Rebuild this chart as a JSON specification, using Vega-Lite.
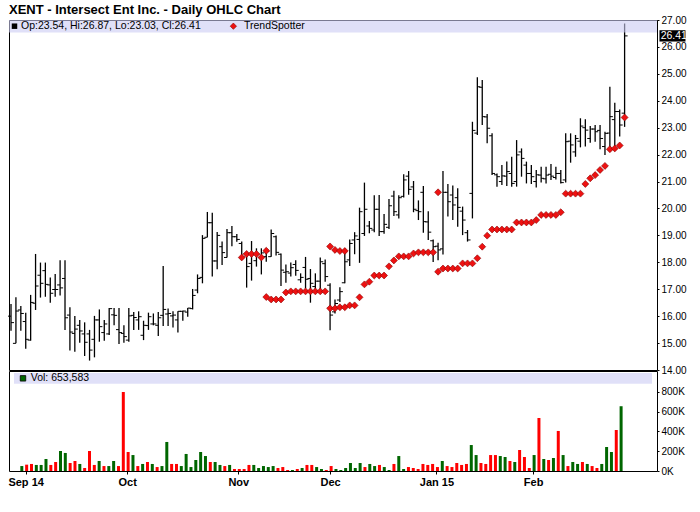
{
  "$schema": "https://vega.github.io/schema/vega-lite/v6.json",
  "description": "XENT daily OHLC chart with TrendSpotter markers and volume, Aug 28 2014 - Feb 27 2015 (i = trading day index).",
  "background": "white",
  "padding": {"left": 7, "top": 4, "right": 4, "bottom": 4},
  "bounds": "flush",
  "title": {
    "text": "XENT - Intersect Ent Inc. - Daily OHLC Chart",
    "anchor": "start",
    "frame": "group",
    "font": "Liberation Sans",
    "fontSize": 13,
    "fontWeight": "bold",
    "color": "black",
    "offset": -2.5
  },
  "config": {
    "view": {"stroke": "black", "strokeWidth": 1},
    "axis": {"grid": false, "domain": false, "tickColor": "black", "labelColor": "black", "labelFont": "Liberation Sans", "title": null, "labelOverlap": false}
  },
  "datasets": {
    "bars": [
      {"i":0,"o":16.00,"h":16.45,"l":15.46,"c":15.76,"v":null,"dir":"down"},
      {"i":1,"o":14.99,"h":16.70,"l":14.99,"c":16.19,"v":50000,"dir":"up"},
      {"i":2,"o":16.23,"h":16.38,"l":15.46,"c":16.10,"v":64000,"dir":"down"},
      {"i":3,"o":15.80,"h":16.13,"l":14.79,"c":15.14,"v":71000,"dir":"down"},
      {"i":4,"o":15.11,"h":16.79,"l":15.09,"c":16.51,"v":61000,"dir":"up"},
      {"i":5,"o":16.48,"h":18.31,"l":16.23,"c":17.12,"v":61000,"dir":"up"},
      {"i":6,"o":17.52,"h":17.99,"l":16.69,"c":17.22,"v":121000,"dir":"up"},
      {"i":7,"o":17.69,"h":17.99,"l":16.72,"c":17.18,"v":61000,"dir":"down"},
      {"i":8,"o":17.16,"h":17.44,"l":16.50,"c":16.85,"v":91000,"dir":"down"},
      {"i":9,"o":16.99,"h":17.57,"l":16.72,"c":16.99,"v":202000,"dir":"up"},
      {"i":10,"o":17.16,"h":18.08,"l":16.77,"c":17.05,"v":182000,"dir":"up"},
      {"i":11,"o":17.40,"h":18.08,"l":15.49,"c":15.94,"v":81000,"dir":"down"},
      {"i":12,"o":16.04,"h":16.33,"l":14.72,"c":15.41,"v":101000,"dir":"down"},
      {"i":13,"o":15.36,"h":16.01,"l":14.68,"c":15.52,"v":71000,"dir":"up"},
      {"i":14,"o":15.66,"h":15.86,"l":15.01,"c":15.45,"v":30000,"dir":"down"},
      {"i":15,"o":15.34,"h":15.77,"l":14.52,"c":15.03,"v":202000,"dir":"down"},
      {"i":16,"o":15.34,"h":15.49,"l":14.35,"c":14.74,"v":61000,"dir":"down"},
      {"i":17,"o":15.14,"h":16.01,"l":14.47,"c":15.86,"v":101000,"dir":"up"},
      {"i":18,"o":15.86,"h":16.25,"l":15.05,"c":15.61,"v":50000,"dir":"down"},
      {"i":19,"o":15.39,"h":15.86,"l":15.09,"c":15.71,"v":50000,"dir":"up"},
      {"i":20,"o":15.34,"h":16.30,"l":15.30,"c":16.28,"v":101000,"dir":"up"},
      {"i":21,"o":16.05,"h":16.30,"l":15.66,"c":16.03,"v":50000,"dir":"down"},
      {"i":22,"o":15.50,"h":16.30,"l":14.97,"c":15.39,"v":797000,"dir":"down"},
      {"i":23,"o":15.36,"h":15.66,"l":15.01,"c":15.24,"v":192000,"dir":"down"},
      {"i":24,"o":15.11,"h":16.30,"l":15.05,"c":16.01,"v":161000,"dir":"up"},
      {"i":25,"o":16.03,"h":16.15,"l":15.49,"c":15.95,"v":50000,"dir":"down"},
      {"i":26,"o":15.86,"h":16.18,"l":15.49,"c":15.98,"v":71000,"dir":"up"},
      {"i":27,"o":15.29,"h":15.83,"l":15.11,"c":15.66,"v":91000,"dir":"down"},
      {"i":28,"o":15.65,"h":16.13,"l":15.49,"c":15.98,"v":71000,"dir":"up"},
      {"i":29,"o":15.71,"h":16.10,"l":15.66,"c":15.71,"v":40000,"dir":"down"},
      {"i":30,"o":15.66,"h":16.15,"l":15.26,"c":15.94,"v":50000,"dir":"up"},
      {"i":31,"o":16.03,"h":17.86,"l":15.63,"c":16.25,"v":293000,"dir":"up"},
      {"i":32,"o":16.08,"h":16.28,"l":15.63,"c":16.10,"v":71000,"dir":"down"},
      {"i":33,"o":16.01,"h":16.18,"l":15.58,"c":16.04,"v":71000,"dir":"down"},
      {"i":34,"o":15.86,"h":16.18,"l":15.39,"c":16.18,"v":50000,"dir":"up"},
      {"i":35,"o":16.18,"h":16.20,"l":15.83,"c":16.19,"v":172000,"dir":"up"},
      {"i":36,"o":16.15,"h":16.30,"l":15.98,"c":16.30,"v":40000,"dir":"up"},
      {"i":37,"o":16.28,"h":17.01,"l":16.25,"c":16.77,"v":111000,"dir":"up"},
      {"i":38,"o":16.97,"h":17.55,"l":16.85,"c":17.40,"v":192000,"dir":"up"},
      {"i":39,"o":17.44,"h":19.01,"l":17.22,"c":18.89,"v":151000,"dir":"up"},
      {"i":40,"o":18.93,"h":19.87,"l":18.93,"c":19.47,"v":91000,"dir":"down"},
      {"i":41,"o":19.47,"h":19.84,"l":17.47,"c":18.05,"v":91000,"dir":"up"},
      {"i":42,"o":18.05,"h":19.13,"l":17.74,"c":19.00,"v":61000,"dir":"up"},
      {"i":43,"o":18.58,"h":18.77,"l":17.90,"c":18.36,"v":50000,"dir":"down"},
      {"i":44,"o":18.18,"h":19.24,"l":18.18,"c":19.10,"v":61000,"dir":"up"},
      {"i":45,"o":19.10,"h":19.35,"l":18.60,"c":18.95,"v":20000,"dir":"down"},
      {"i":46,"o":18.95,"h":19.05,"l":18.76,"c":18.85,"v":20000,"dir":"down"},
      {"i":47,"o":18.70,"h":18.77,"l":18.09,"c":18.20,"v":20000,"dir":"down"},
      {"i":48,"o":18.33,"h":18.36,"l":17.06,"c":17.84,"v":61000,"dir":"down"},
      {"i":49,"o":17.96,"h":18.79,"l":17.32,"c":18.29,"v":61000,"dir":"up"},
      {"i":50,"o":18.06,"h":18.52,"l":17.84,"c":18.30,"v":30000,"dir":"up"},
      {"i":51,"o":18.18,"h":18.52,"l":17.55,"c":18.35,"v":50000,"dir":"up"},
      {"i":52,"o":18.21,"h":18.52,"l":18.02,"c":18.40,"v":40000,"dir":"up"},
      {"i":53,"o":18.21,"h":19.22,"l":18.21,"c":19.07,"v":50000,"dir":"up"},
      {"i":54,"o":18.95,"h":19.00,"l":18.25,"c":18.37,"v":30000,"dir":"down"},
      {"i":55,"o":18.30,"h":18.33,"l":17.12,"c":17.71,"v":40000,"dir":"down"},
      {"i":56,"o":17.63,"h":17.92,"l":17.24,"c":17.65,"v":10000,"dir":"down"},
      {"i":57,"o":17.60,"h":17.99,"l":17.47,"c":17.80,"v":10000,"dir":"up"},
      {"i":58,"o":17.92,"h":18.08,"l":17.50,"c":17.70,"v":20000,"dir":"down"},
      {"i":59,"o":17.35,"h":17.59,"l":17.24,"c":17.44,"v":30000,"dir":"up"},
      {"i":60,"o":17.81,"h":18.20,"l":17.03,"c":17.37,"v":61000,"dir":"down"},
      {"i":61,"o":17.40,"h":17.75,"l":16.50,"c":17.22,"v":61000,"dir":"down"},
      {"i":62,"o":17.10,"h":17.59,"l":16.88,"c":17.30,"v":40000,"dir":"up"},
      {"i":63,"o":17.30,"h":18.18,"l":16.91,"c":18.02,"v":20000,"dir":"up"},
      {"i":64,"o":17.95,"h":18.10,"l":17.28,"c":17.47,"v":10000,"dir":"down"},
      {"i":65,"o":17.15,"h":17.22,"l":15.48,"c":16.04,"v":50000,"dir":"down"},
      {"i":66,"o":16.16,"h":16.62,"l":16.10,"c":16.47,"v":20000,"dir":"up"},
      {"i":67,"o":16.60,"h":17.07,"l":16.53,"c":16.91,"v":10000,"dir":"up"},
      {"i":68,"o":17.24,"h":18.52,"l":17.22,"c":18.02,"v":30000,"dir":"up"},
      {"i":69,"o":18.09,"h":18.85,"l":17.86,"c":18.70,"v":81000,"dir":"up"},
      {"i":70,"o":18.83,"h":19.12,"l":18.30,"c":18.98,"v":30000,"dir":"up"},
      {"i":71,"o":18.85,"h":20.03,"l":17.98,"c":19.88,"v":81000,"dir":"up"},
      {"i":72,"o":19.07,"h":20.96,"l":18.98,"c":19.97,"v":40000,"dir":"down"},
      {"i":73,"o":19.35,"h":19.53,"l":19.08,"c":19.26,"v":71000,"dir":"up"},
      {"i":74,"o":19.20,"h":20.49,"l":19.12,"c":19.97,"v":50000,"dir":"up"},
      {"i":75,"o":19.97,"h":20.50,"l":18.98,"c":19.14,"v":61000,"dir":"down"},
      {"i":76,"o":19.14,"h":19.79,"l":19.06,"c":19.41,"v":40000,"dir":"up"},
      {"i":77,"o":19.30,"h":20.35,"l":19.24,"c":20.10,"v":10000,"dir":"up"},
      {"i":78,"o":20.46,"h":20.66,"l":19.72,"c":19.88,"v":71000,"dir":"down"},
      {"i":79,"o":19.76,"h":20.49,"l":19.63,"c":20.40,"v":151000,"dir":"up"},
      {"i":80,"o":20.45,"h":21.27,"l":20.41,"c":21.06,"v":20000,"dir":"up"},
      {"i":81,"o":21.20,"h":21.39,"l":20.51,"c":20.71,"v":40000,"dir":"down"},
      {"i":82,"o":20.80,"h":21.02,"l":19.86,"c":19.97,"v":30000,"dir":"down"},
      {"i":83,"o":19.92,"h":20.30,"l":19.57,"c":19.88,"v":20000,"dir":"down"},
      {"i":84,"o":20.60,"h":20.83,"l":19.10,"c":19.51,"v":71000,"dir":"down"},
      {"i":85,"o":19.50,"h":19.90,"l":18.83,"c":19.12,"v":61000,"dir":"down"},
      {"i":86,"o":18.80,"h":18.85,"l":18.01,"c":18.58,"v":71000,"dir":"down"},
      {"i":87,"o":18.60,"h":18.73,"l":18.08,"c":18.46,"v":40000,"dir":"down"},
      {"i":88,"o":18.50,"h":21.39,"l":18.29,"c":20.60,"v":101000,"dir":"up"},
      {"i":89,"o":20.60,"h":20.91,"l":19.70,"c":20.25,"v":50000,"dir":"down"},
      {"i":90,"o":20.50,"h":20.85,"l":19.57,"c":20.13,"v":40000,"dir":"down"},
      {"i":91,"o":20.40,"h":20.75,"l":19.32,"c":20.04,"v":81000,"dir":"down"},
      {"i":92,"o":19.90,"h":20.07,"l":19.01,"c":19.57,"v":61000,"dir":"down"},
      {"i":93,"o":19.10,"h":19.20,"l":18.77,"c":18.83,"v":71000,"dir":"down"},
      {"i":94,"o":20.56,"h":23.22,"l":19.63,"c":22.90,"v":262000,"dir":"up"},
      {"i":95,"o":22.80,"h":24.87,"l":22.73,"c":24.52,"v":161000,"dir":"up"},
      {"i":96,"o":24.50,"h":24.77,"l":23.10,"c":23.41,"v":81000,"dir":"down"},
      {"i":97,"o":23.40,"h":23.51,"l":22.42,"c":22.98,"v":71000,"dir":"down"},
      {"i":98,"o":22.70,"h":22.79,"l":21.24,"c":21.30,"v":161000,"dir":"down"},
      {"i":99,"o":21.25,"h":21.30,"l":20.81,"c":21.18,"v":161000,"dir":"down"},
      {"i":100,"o":21.00,"h":21.61,"l":20.87,"c":21.21,"v":151000,"dir":"up"},
      {"i":101,"o":21.20,"h":21.74,"l":20.83,"c":21.37,"v":141000,"dir":"up"},
      {"i":102,"o":21.30,"h":21.92,"l":20.81,"c":20.93,"v":101000,"dir":"down"},
      {"i":103,"o":21.00,"h":22.54,"l":20.81,"c":21.99,"v":91000,"dir":"up"},
      {"i":104,"o":22.10,"h":22.23,"l":21.18,"c":21.86,"v":212000,"dir":"down"},
      {"i":105,"o":21.61,"h":21.74,"l":20.93,"c":21.30,"v":141000,"dir":"down"},
      {"i":106,"o":21.30,"h":21.61,"l":20.91,"c":21.18,"v":30000,"dir":"down"},
      {"i":107,"o":21.00,"h":21.43,"l":20.78,"c":21.25,"v":161000,"dir":"up"},
      {"i":108,"o":21.24,"h":21.55,"l":20.96,"c":21.12,"v":535000,"dir":"down"},
      {"i":109,"o":21.10,"h":21.55,"l":20.93,"c":21.24,"v":121000,"dir":"up"},
      {"i":110,"o":21.27,"h":21.65,"l":21.06,"c":21.20,"v":111000,"dir":"down"},
      {"i":111,"o":21.15,"h":21.55,"l":21.08,"c":21.30,"v":131000,"dir":"up"},
      {"i":112,"o":21.30,"h":21.43,"l":20.93,"c":20.96,"v":404000,"dir":"down"},
      {"i":113,"o":21.06,"h":22.79,"l":20.96,"c":22.48,"v":161000,"dir":"up"},
      {"i":114,"o":22.50,"h":22.79,"l":21.70,"c":22.36,"v":50000,"dir":"down"},
      {"i":115,"o":22.10,"h":22.73,"l":21.92,"c":22.60,"v":91000,"dir":"up"},
      {"i":116,"o":22.50,"h":23.35,"l":22.27,"c":23.06,"v":71000,"dir":"up"},
      {"i":117,"o":23.00,"h":23.31,"l":22.30,"c":22.91,"v":91000,"dir":"down"},
      {"i":118,"o":22.60,"h":23.06,"l":22.44,"c":22.95,"v":71000,"dir":"up"},
      {"i":119,"o":22.95,"h":23.10,"l":22.48,"c":22.85,"v":50000,"dir":"down"},
      {"i":120,"o":22.90,"h":23.10,"l":22.20,"c":22.60,"v":30000,"dir":"down"},
      {"i":121,"o":22.30,"h":22.85,"l":21.99,"c":22.79,"v":71000,"dir":"up"},
      {"i":122,"o":22.80,"h":24.52,"l":22.17,"c":23.41,"v":242000,"dir":"up"},
      {"i":123,"o":23.30,"h":23.93,"l":22.23,"c":23.60,"v":192000,"dir":"up"},
      {"i":124,"o":23.60,"h":23.68,"l":22.67,"c":23.10,"v":414000,"dir":"down"},
      {"i":125,"o":23.54,"h":26.87,"l":23.03,"c":26.41,"v":653583,"dir":"up"}
    ],
    "ts": [
      {"i":47,"p":18.18},{"i":48,"p":18.31},{"i":49,"p":18.31},{"i":50,"p":18.31},{"i":51,"p":18.18},{"i":52,"p":18.43},
      {"i":52,"p":16.71},{"i":53,"p":16.62},{"i":54,"p":16.62},{"i":55,"p":16.62},{"i":56,"p":16.88},
      {"i":57,"p":16.92},{"i":58,"p":16.92},{"i":59,"p":16.92},{"i":60,"p":16.92},{"i":61,"p":16.92},{"i":62,"p":16.92},{"i":63,"p":16.92},{"i":64,"p":16.92},
      {"i":65,"p":18.59},{"i":66,"p":18.46},{"i":67,"p":18.42},{"i":68,"p":18.42},
      {"i":65,"p":16.29},{"i":66,"p":16.29},{"i":67,"p":16.33},{"i":68,"p":16.33},{"i":69,"p":16.40},{"i":70,"p":16.40},
      {"i":71,"p":16.70},{"i":72,"p":17.18},{"i":73,"p":17.28},{"i":74,"p":17.51},{"i":75,"p":17.51},{"i":76,"p":17.51},
      {"i":77,"p":17.85},{"i":78,"p":18.07},{"i":79,"p":18.22},{"i":80,"p":18.22},{"i":81,"p":18.22},{"i":82,"p":18.33},
      {"i":83,"p":18.37},{"i":84,"p":18.37},{"i":85,"p":18.37},{"i":86,"p":18.37},
      {"i":87,"p":20.60},
      {"i":87,"p":17.65},{"i":88,"p":17.77},{"i":89,"p":17.77},{"i":90,"p":17.77},{"i":91,"p":17.77},
      {"i":92,"p":17.96},{"i":93,"p":17.96},{"i":94,"p":17.96},{"i":95,"p":18.15},{"i":96,"p":18.58},{"i":97,"p":18.99},
      {"i":98,"p":19.22},{"i":99,"p":19.22},{"i":100,"p":19.22},{"i":101,"p":19.22},{"i":102,"p":19.22},
      {"i":103,"p":19.48},{"i":104,"p":19.48},{"i":105,"p":19.48},{"i":106,"p":19.48},{"i":107,"p":19.57},
      {"i":108,"p":19.76},{"i":109,"p":19.76},{"i":110,"p":19.76},{"i":111,"p":19.76},{"i":112,"p":19.86},
      {"i":113,"p":20.55},{"i":114,"p":20.55},{"i":115,"p":20.55},{"i":116,"p":20.55},
      {"i":117,"p":20.91},{"i":118,"p":21.12},{"i":119,"p":21.24},{"i":120,"p":21.43},{"i":121,"p":21.58},
      {"i":122,"p":22.20},{"i":123,"p":22.23},{"i":124,"p":22.34},{"i":125,"p":23.38}
    ]
  },
  "spacing": 1,
  "resolve": {"scale": {"x": "independent", "y": "independent", "color": "independent"}},
  "vconcat": [
    {
      "width": 648,
      "height": 350,
      "data": {"name": "bars"},
      "layer": [
        {
          "mark": {"type": "rule", "color": "black", "strokeWidth": 1.3},
          "encoding": {
            "x": {"field": "i", "type": "quantitative", "scale": {"domain": [-0.41, 131.6], "nice": false, "zero": false}, "axis": null},
            "y": {
              "field": "l", "type": "quantitative",
              "scale": {"domain": [14, 27], "nice": false, "zero": false},
              "axis": {"orient": "right", "values": [14,15,16,17,18,19,20,21,22,23,24,25,26,27], "format": ".2f", "tickSize": 2, "labelPadding": 2, "labelFontSize": 10, "labelOverlap": false, "labelBound": false}
            },
            "y2": {"field": "h"}
          }
        },
        {
          "mark": {"type": "tick", "orient": "horizontal", "color": "black", "size": 3, "thickness": 1, "xOffset": -1.5, "opacity": 1},
          "encoding": {
            "x": {"field": "i", "type": "quantitative"},
            "y": {"field": "o", "type": "quantitative", "axis": {"orient": "right", "values": [14,15,16,17,18,19,20,21,22,23,24,25,26,27], "format": ".2f", "tickSize": 2, "labelPadding": 2, "labelFontSize": 10, "labelOverlap": false, "labelBound": false}}
          }
        },
        {
          "mark": {"type": "tick", "orient": "horizontal", "color": "black", "size": 3, "thickness": 1, "xOffset": 1.5, "opacity": 1},
          "encoding": {
            "x": {"field": "i", "type": "quantitative"},
            "y": {"field": "c", "type": "quantitative", "axis": {"orient": "right", "values": [14,15,16,17,18,19,20,21,22,23,24,25,26,27], "format": ".2f", "tickSize": 2, "labelPadding": 2, "labelFontSize": 10, "labelOverlap": false, "labelBound": false}}
          }
        },
        {
          "data": {"name": "ts"},
          "mark": {"type": "point", "shape": "diamond", "filled": true, "size": 48, "fill": "#ee1111", "stroke": "#8a0000", "strokeWidth": 0.6, "opacity": 1},
          "encoding": {
            "x": {"field": "i", "type": "quantitative"},
            "y": {"field": "p", "type": "quantitative", "axis": {"orient": "right", "values": [14,15,16,17,18,19,20,21,22,23,24,25,26,27], "format": ".2f", "tickSize": 2, "labelPadding": 2, "labelFontSize": 10, "labelOverlap": false, "labelBound": false}}
          }
        },
        {
          "transform": [{"filter": "datum.i == 125"}],
          "mark": {"type": "rect", "color": "#cbcbf3", "opacity": 0.6},
          "encoding": {
            "x": {"datum": -0.41, "type": "quantitative"}, "x2": {"datum": 131.6},
            "y": {"datum": 27, "type": "quantitative", "axis": {"orient": "right", "values": [14,15,16,17,18,19,20,21,22,23,24,25,26,27], "format": ".2f", "tickSize": 2, "labelPadding": 2, "labelFontSize": 10, "labelOverlap": false, "labelBound": false}},
            "y2": {"datum": 26.54}
          }
        },
        {
          "transform": [{"filter": "datum.i == 125"}],
          "mark": {"type": "point", "shape": "square", "filled": true, "color": "black", "size": 30, "opacity": 1},
          "encoding": {
            "x": {"datum": 0.71, "type": "quantitative"},
            "y": {"datum": 26.77, "type": "quantitative", "axis": {"orient": "right", "values": [14,15,16,17,18,19,20,21,22,23,24,25,26,27], "format": ".2f", "tickSize": 2, "labelPadding": 2, "labelFontSize": 10, "labelOverlap": false, "labelBound": false}}
          }
        },
        {
          "transform": [{"filter": "datum.i == 125"}],
          "mark": {"type": "text", "align": "left", "baseline": "middle", "font": "Liberation Sans", "fontSize": 10.5, "color": "black"},
          "encoding": {
            "x": {"datum": 2.03, "type": "quantitative"},
            "y": {"datum": 26.77, "type": "quantitative", "axis": {"orient": "right", "values": [14,15,16,17,18,19,20,21,22,23,24,25,26,27], "format": ".2f", "tickSize": 2, "labelPadding": 2, "labelFontSize": 10, "labelOverlap": false, "labelBound": false}},
            "text": {"value": "Op:23.54, Hi:26.87, Lo:23.03, Cl:26.41"}
          }
        },
        {
          "data": {"values": [{"name": "TrendSpotter"}]},
          "mark": {"type": "point", "shape": "diamond", "filled": true, "size": 40, "fill": "#ee1111", "stroke": "#8a0000", "strokeWidth": 0.6, "opacity": 1},
          "encoding": {
            "x": {"datum": 45.3, "type": "quantitative"},
            "y": {"datum": 26.77, "type": "quantitative", "axis": {"orient": "right", "values": [14,15,16,17,18,19,20,21,22,23,24,25,26,27], "format": ".2f", "tickSize": 2, "labelPadding": 2, "labelFontSize": 10, "labelOverlap": false, "labelBound": false}}
          }
        },
        {
          "data": {"values": [{"name": "TrendSpotter"}]},
          "mark": {"type": "text", "align": "left", "baseline": "middle", "font": "Liberation Sans", "fontSize": 10.5, "color": "black"},
          "encoding": {
            "x": {"datum": 47.45, "type": "quantitative"},
            "y": {"datum": 26.77, "type": "quantitative", "axis": {"orient": "right", "values": [14,15,16,17,18,19,20,21,22,23,24,25,26,27], "format": ".2f", "tickSize": 2, "labelPadding": 2, "labelFontSize": 10, "labelOverlap": false, "labelBound": false}},
            "text": {"field": "name"}
          }
        },
        {
          "transform": [{"filter": "datum.i == 125"}],
          "mark": {"type": "rect", "color": "black", "clip": false},
          "encoding": {
            "x": {"datum": 132.1, "type": "quantitative"}, "x2": {"datum": 137.4},
            "y": {"datum": 26.62, "type": "quantitative", "axis": {"orient": "right", "values": [14,15,16,17,18,19,20,21,22,23,24,25,26,27], "format": ".2f", "tickSize": 2, "labelPadding": 2, "labelFontSize": 10, "labelOverlap": false, "labelBound": false}},
            "y2": {"datum": 26.2}
          }
        },
        {
          "transform": [{"filter": "datum.i == 125"}],
          "mark": {"type": "text", "align": "left", "baseline": "middle", "font": "Liberation Sans", "fontSize": 10.5, "color": "white", "clip": false},
          "encoding": {
            "x": {"datum": 132.35, "type": "quantitative"},
            "y": {"field": "c", "type": "quantitative", "axis": {"orient": "right", "values": [14,15,16,17,18,19,20,21,22,23,24,25,26,27], "format": ".2f", "tickSize": 2, "labelPadding": 2, "labelFontSize": 10, "labelOverlap": false, "labelBound": false}},
            "text": {"field": "c", "type": "quantitative", "format": ".2f"}
          }
        }
      ]
    },
    {
      "width": 648,
      "height": 100,
      "data": {"name": "bars"},
      "layer": [
        {
          "transform": [{"filter": "datum.v != null"}],
          "mark": {"type": "bar", "size": 3, "xOffset": 1},
          "encoding": {
            "x": {
              "field": "i", "type": "quantitative",
              "scale": {"domain": [-0.41, 131.6], "nice": false, "zero": false},
              "axis": {
                "orient": "bottom",
                "values": [2, 23, 46, 65, 87, 107],
                "labelExpr": "datum.value == 2 ? 'Sep 14' : datum.value == 23 ? 'Oct' : datum.value == 46 ? 'Nov' : datum.value == 65 ? 'Dec' : datum.value == 87 ? 'Jan 15' : 'Feb'",
                "tickSize": 3,
                "labelPadding": 2,
                "labelFontSize": 11,
                "labelFontWeight": "bold",
                "labelFlush": false,
                "labelOverlap": false
              }
            },
            "y": {
              "field": "v", "type": "quantitative",
              "scale": {"domain": [0, 1009000], "nice": false},
              "axis": {"orient": "right", "values": [0, 200000, 400000, 600000, 800000], "labelExpr": "(datum.value / 1000) + 'K'", "tickSize": 2, "labelPadding": 2, "labelFontSize": 10, "labelOverlap": false, "labelBound": false}
            },
            "color": {"field": "dir", "type": "nominal", "scale": {"domain": ["up", "down"], "range": ["#006600", "#ff0000"]}, "legend": null}
          }
        },
        {
          "transform": [{"filter": "datum.i == 125"}],
          "mark": {"type": "rect", "color": "#cbcbf3", "opacity": 0.6},
          "encoding": {
            "x": {"datum": -0.41, "type": "quantitative"}, "x2": {"datum": 131.6},
            "y": {"datum": 990000, "type": "quantitative", "axis": {"orient": "right", "values": [0, 200000, 400000, 600000, 800000], "labelExpr": "(datum.value / 1000) + 'K'", "tickSize": 2, "labelPadding": 2, "labelFontSize": 10, "labelOverlap": false, "labelBound": false}},
            "y2": {"datum": 880000}
          }
        },
        {
          "transform": [{"filter": "datum.i == 125"}],
          "mark": {"type": "point", "shape": "square", "filled": true, "color": "#006600", "stroke": "black", "strokeWidth": 0.8, "size": 30, "opacity": 1},
          "encoding": {
            "x": {"datum": 1.45, "type": "quantitative"},
            "y": {"datum": 935000, "type": "quantitative", "axis": {"orient": "right", "values": [0, 200000, 400000, 600000, 800000], "labelExpr": "(datum.value / 1000) + 'K'", "tickSize": 2, "labelPadding": 2, "labelFontSize": 10, "labelOverlap": false, "labelBound": false}}
          }
        },
        {
          "transform": [{"filter": "datum.i == 125"}],
          "mark": {"type": "text", "align": "left", "baseline": "middle", "font": "Liberation Sans", "fontSize": 10.5, "color": "black"},
          "encoding": {
            "x": {"datum": 3.05, "type": "quantitative"},
            "y": {"datum": 935000, "type": "quantitative", "axis": {"orient": "right", "values": [0, 200000, 400000, 600000, 800000], "labelExpr": "(datum.value / 1000) + 'K'", "tickSize": 2, "labelPadding": 2, "labelFontSize": 10, "labelOverlap": false, "labelBound": false}},
            "text": {"value": "Vol: 653,583"}
          }
        }
      ]
    }
  ]
}
